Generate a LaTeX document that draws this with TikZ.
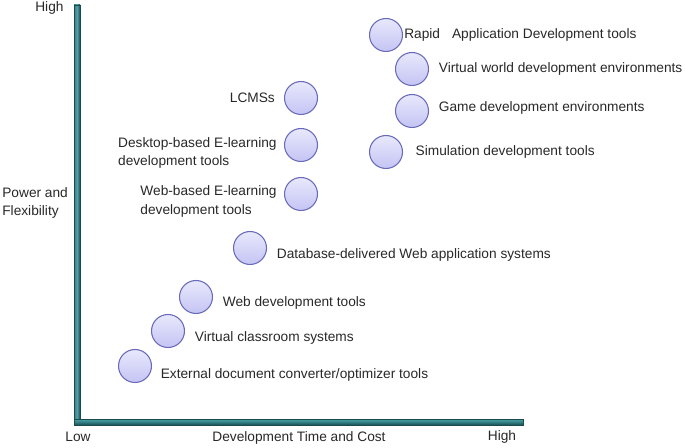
\documentclass[tikz,border=0pt]{standalone}
\usepackage{fontspec}
\setmainfont{Liberation Sans}
\usetikzlibrary{positioning, shadings}
\usepackage{xcolor}
\definecolor{axteal}{RGB}{50,128,132}
\definecolor{axlight}{RGB}{80,160,165}
\definecolor{axdark}{RGB}{25,75,80}
\definecolor{ballfill}{RGB}{196,196,244}
\definecolor{balltop}{RGB}{232,232,252}
\definecolor{balledge}{RGB}{105,105,185}
\definecolor{txtgray}{RGB}{40,40,40}
\tikzset{
  BL/.style={circle,draw=balledge,semithick,minimum size=0.66cm,inner sep=0pt,
    top color=balltop,bottom color=ballfill},
  LR/.style={right=5.4pt of #1,font=\fontsize{7.8}{10.5}\selectfont\color{txtgray},align=left,inner sep=0pt},
  LL/.style={left=4pt of #1,font=\fontsize{7.8}{10.5}\selectfont\color{txtgray},align=left,inner sep=0pt},
  AX/.style={draw=axdark,line width=0.4pt},
  TX/.style={font=\fontsize{7.8}{10.5}\selectfont\color{txtgray},align=left,inner sep=0pt},
}

\begin{document}
\begin{tikzpicture}[x=0.02cm,y=-0.02cm]
\useasboundingbox (0,0) rectangle (685,448);

% axes
\draw[AX,left color=axteal,right color=axdark,middle color=axlight](74,5) rectangle (80,425);
\draw[AX,top color=axlight,bottom color=axdark,middle color=axteal](74,419) rectangle (523,425);

% axis labels
\node[TX,anchor=west](yhigh) at (35,8){High};
\node[TX,anchor=west](ylab) at (2,203){Power and\\Flexibility};
\node[TX](xlow) at (78,437){Low};
\node[TX](xlab) at (299,438){Development Time and Cost};
\node[TX](xhigh) at (502,437){High};

% tools
\node[BL](rad)  at (386, 35){};
\node[BL](vwd)  at (412, 69){};
\node[BL](gde)  at (412,111){};
\node[BL](sim)  at (386,152){};
\node[BL](lcms) at (301, 98){};
\node[BL](dkb)  at (301,145){};
\node[BL](wbe)  at (301,194){};
\node[BL](dbw)  at (250,248){};
\node[BL](wdt)  at (196,297){};
\node[BL](vcs)  at (168,331){};
\node[BL](edc)  at (135,366){};

% labels
\node[LR=rad,right=0.5pt of rad]{Rapid\hspace{0.6em} Application Development tools};
\node[LR=vwd]{Virtual world development environments};
\node[LR=gde,yshift=1.5pt]{Game development environments};
\node[LR=sim,right=7pt of sim]{Simulation development tools};
\node[LL=lcms,left=5pt of lcms]{LCMSs};
\node[LL=dkb,yshift=-4.5pt]{Desktop-based E-learning\\development tools};
\node[LL=wbe,yshift=-4.2pt]{Web-based E-learning\\development tools};
\node[LR=dbw,yshift=-4pt]{Database-delivered Web application systems};
\node[LR=wdt,yshift=-3.4pt]{Web development tools};
\node[LR=vcs,yshift=-4pt]{Virtual classroom systems};
\node[LR=edc,right=4.8pt of edc,yshift=-5pt]{External document converter/optimizer tools};

\end{tikzpicture}
\end{document}
